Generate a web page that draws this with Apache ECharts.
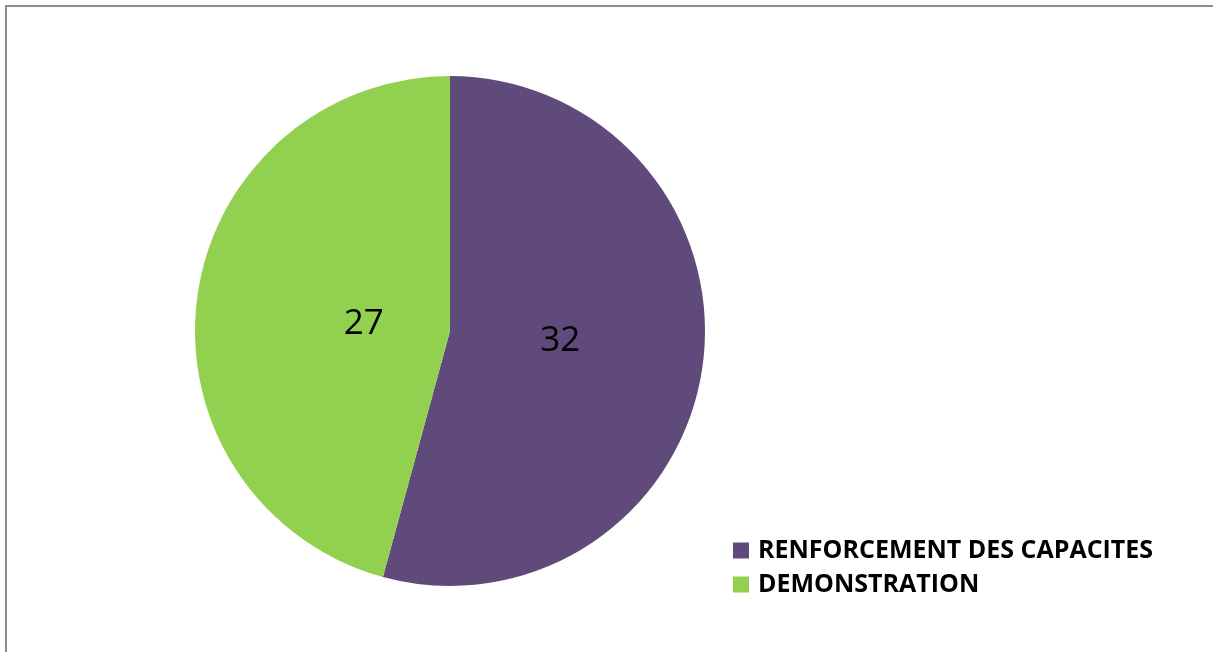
<!DOCTYPE html>
<html>
<head>
<meta charset="utf-8">
<script src="https://cdn.jsdelivr.net/npm/echarts@6/dist/echarts.min.js"></script>
<style>
  html, body { margin: 0; padding: 0; background: #fff; }
  #frame {
    position: absolute; left: 5px; top: 5px; width: 1220px; height: 660px;
    border-left: 2px solid #8c8c8c; border-top: 2px solid #8c8c8c;
  }
  #chart { position: absolute; left: 0; top: 0; width: 1213px; height: 652px; }
</style>
</head>
<body>
<div id="frame"></div>
<div id="chart"></div>
<script>
const categories = ['RENFORCEMENT DES CAPACITES', 'DEMONSTRATION']
const values = [32, 27]
const colors = ['#604a7b', '#92d050']

// nudge labels to where the original puts them
const labelShift = [
  { dx: -19, dy: -7 },
  { dx: 43, dy: 10 },
]

const chart = echarts.init(document.getElementById('chart'))
chart.setOption({
  animation: false,
  legend: {
    orient: 'vertical',
    left: 733,
    top: 538,
    padding: 0,
    itemWidth: 16,
    itemHeight: 16,
    itemGap: 9,
    icon: 'rect',
    data: categories,
    textStyle: {
      fontFamily: 'Open Sans',
      fontWeight: 'bold',
      fontSize: 25,
      lineHeight: 25,
      color: '#000',
      padding: [0, 0, 0, 4],
    },
  },
  series: [
    {
      type: 'pie',
      center: [450, 331],
      radius: [0, 255],
      startAngle: 90,
      clockwise: true,
      label: {
        show: true,
        position: 'inside',
        formatter: '{c}',
        fontFamily: 'Open Sans',
        fontSize: 35,
        color: '#000',
      },
      labelLine: { show: false },
      labelLayout: (p) => labelShift[p.dataIndex],
      emphasis: { disabled: true },
      data: categories.map((name, i) => ({
        name,
        value: values[i],
        itemStyle: { color: colors[i] },
      })),
    },
  ],
})
</script>
</body>
</html>
